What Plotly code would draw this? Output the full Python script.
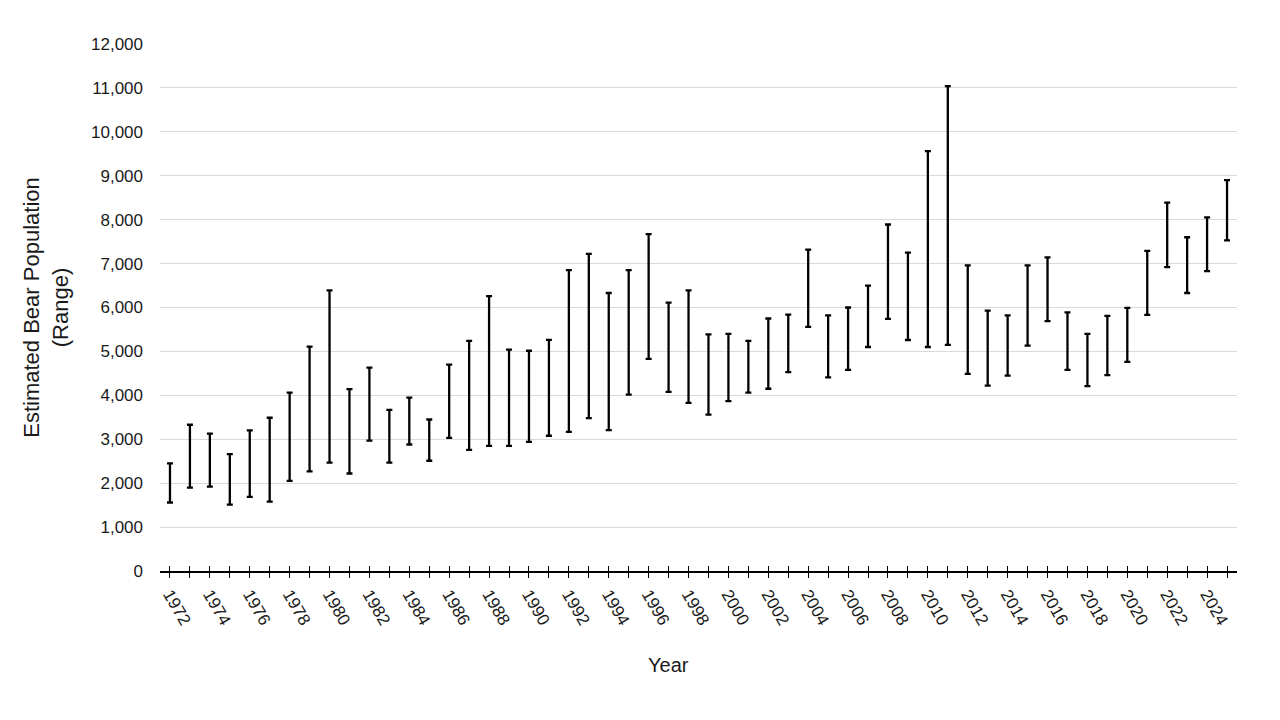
import plotly.graph_objects as go

# ── data ─────────────────────────────────────────────────────────────────────

years = list(range(1972, 2026))

low = [
    1560, 1900, 1920, 1510, 1690, 1580, 2050, 2270, 2470, 2220,  # 1972-1981
    2970, 2470, 2880, 2510, 3030, 2760, 2850, 2850, 2940, 3080,  # 1982-1991
    3170, 3480, 3210, 4015, 4830, 4080, 3830, 3560, 3870, 4060,  # 1992-2001
    4150, 4530, 5560, 4410, 4580, 5100, 5740, 5260, 5100, 5150,  # 2002-2011
    4490, 4220, 4450, 5130, 5690, 4580, 4210, 4460, 4760, 5830,  # 2012-2021
    6920, 6330, 6830, 7530,                                      # 2022-2025
]

high = [
    2450, 3330, 3130, 2660, 3200, 3490, 4060, 5110, 6390, 4140,
    4630, 3670, 3950, 3450, 4700, 5240, 6260, 5040, 5015, 5265,
    6850, 7220, 6330, 6850, 7670, 6110, 6390, 5390, 5400, 5240,
    5750, 5840, 7320, 5820, 6000, 6500, 7890, 7250, 9560, 11040,
    6960, 5930, 5820, 6960, 7140, 5890, 5400, 5810, 5990, 7290,
    8390, 7600, 8050, 8900,
]

tick_labels = [str(y) if y % 2 == 0 else "" for y in years]

# ── style ────────────────────────────────────────────────────────────────────

FONT = "Liberation Sans, Arial, sans-serif"
TEXT = "#1a1a1a"
GRID = "#d9d9d9"

fig = go.Figure()

# high-low range drawn as one-sided error bars from the low value
fig.add_trace(go.Scatter(
    x=years, y=low, mode="markers",
    marker=dict(size=1, opacity=0),
    error_y=dict(
        type="data", symmetric=False,
        array=[h - l for h, l in zip(high, low)],
        arrayminus=[0] * len(years),
        color="black", thickness=2.3, width=3,
    ),
    showlegend=False, hoverinfo="skip",
))

# empty trace on an overlaid axis, only to get ticks crossing the axis line
fig.add_trace(go.Scatter(x=[years[0]], y=[0], xaxis="x2", mode="markers",
                         marker=dict(opacity=0), showlegend=False, hoverinfo="skip"))

xrange = [years[0] - 0.5, years[-1] + 0.5]

fig.update_layout(
    width=1280, height=720,
    paper_bgcolor="white", plot_bgcolor="white",
    font=dict(family=FONT, size=17, color=TEXT),
    margin=dict(l=152, r=51, t=36, b=157),
    xaxis=dict(
        range=xrange, tickvals=years, ticktext=tick_labels,
        tickangle=60, ticks="outside", ticklen=5, tickwidth=1.2, tickcolor="black",
        showline=True, linecolor="black", linewidth=1.5,
        showgrid=False, zeroline=False,
    ),
    xaxis2=dict(
        range=xrange, overlaying="x", anchor="y", side="bottom",
        tickvals=years, ticks="inside", ticklen=5, tickwidth=1.2, tickcolor="black",
        showticklabels=False, showgrid=False, showline=False, zeroline=False,
    ),
    yaxis=dict(
        range=[0, 12000], dtick=1000, tickformat=",d",
        showgrid=True, gridcolor=GRID, gridwidth=1,
        zeroline=False, showline=False, ticks="",
        ticklabelstandoff=16,
        title=dict(text="Estimated Bear Population<br>(Range)",
                   font=dict(size=22), standoff=16),
    ),
)

# x title sits a little left of the plot centre in the original
fig.add_annotation(text="Year", xref="paper", yref="paper", x=0.472, y=0,
                   xanchor="center", yanchor="middle", yshift=-94,
                   showarrow=False, font=dict(size=20, color=TEXT))

fig.write_html("out.html")
